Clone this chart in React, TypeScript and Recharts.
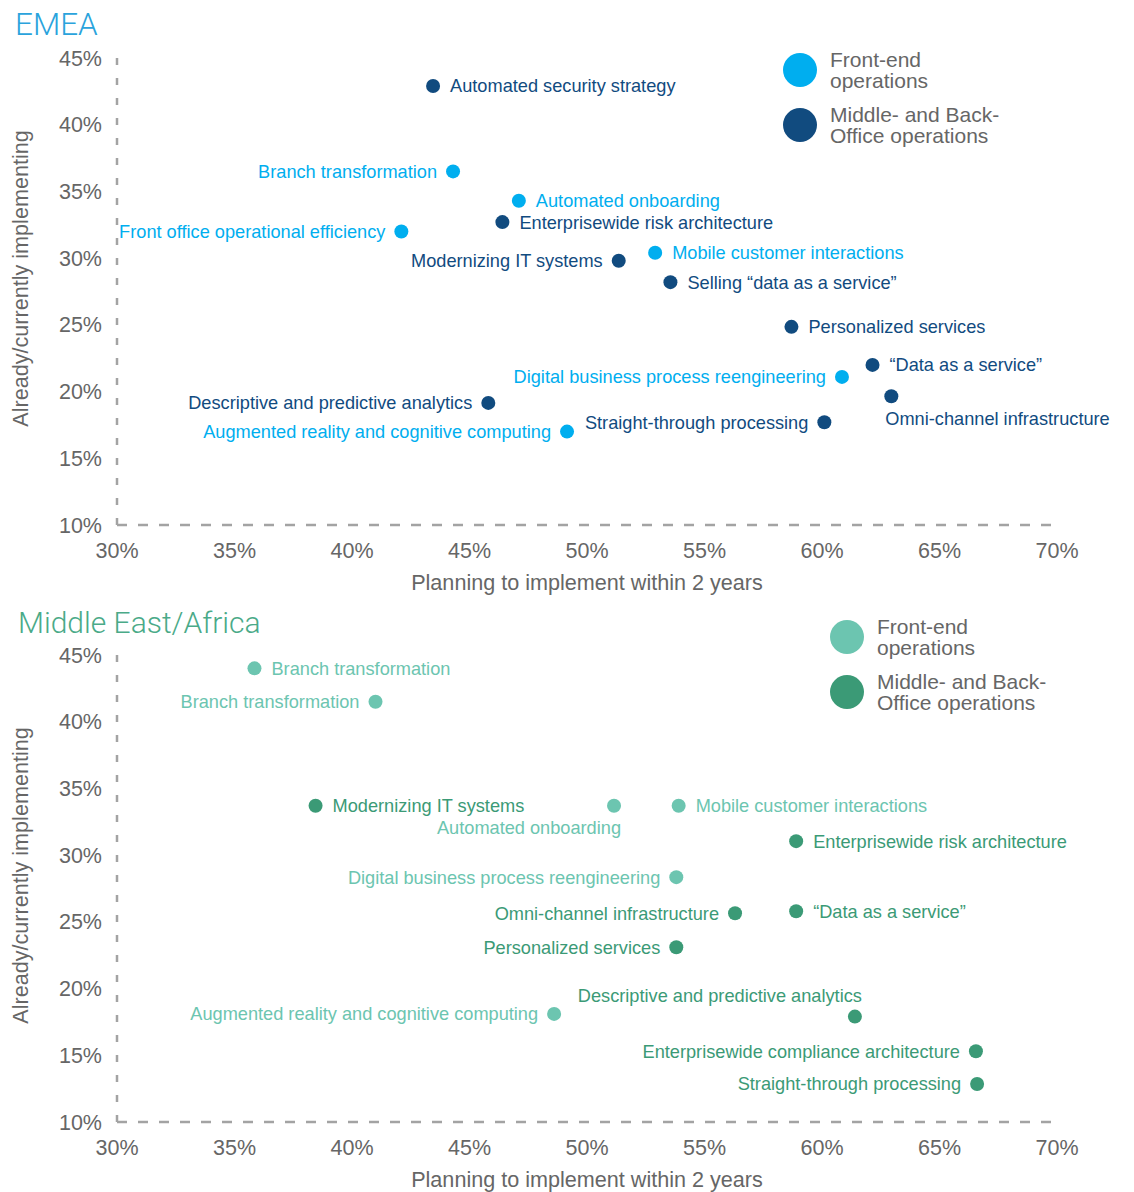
import React from "react";
import { ScatterChart, Scatter, XAxis, YAxis } from "recharts";

const xTicks = [30, 35, 40, 45, 50, 55, 60, 65, 70];
const yTicks = [10, 15, 20, 25, 30, 35, 40, 45];

// EMEA, front-end operations
const emeaFront = [
  { name: "Branch transformation", x: 44.3, y: 36.5 },
  { name: "Automated onboarding", x: 47.1, y: 34.3 },
  { name: "Front office operational efficiency", x: 42.1, y: 32.0 },
  { name: "Mobile customer interactions", x: 52.9, y: 30.4 },
  { name: "Digital business process reengineering", x: 60.85, y: 21.1 },
  { name: "Augmented reality and cognitive computing", x: 49.15, y: 17.0 },
];
const emeaFrontSide = ["l", "r", "l", "r", "l", "l"];

// EMEA, middle- and back-office operations
const emeaBack = [
  { name: "Automated security strategy", x: 43.45, y: 42.9 },
  { name: "Enterprisewide risk architecture", x: 46.4, y: 32.7 },
  { name: "Modernizing IT systems", x: 51.35, y: 29.8 },
  { name: "Selling \u201Cdata as a service\u201D", x: 53.55, y: 28.2 },
  { name: "Personalized services", x: 58.7, y: 24.85 },
  { name: "\u201CData as a service\u201D", x: 62.15, y: 22.0 },
  { name: "Omni-channel infrastructure", x: 62.95, y: 19.65 },
  { name: "Descriptive and predictive analytics", x: 45.8, y: 19.15 },
  { name: "Straight-through processing", x: 60.1, y: 17.7 },
];
const emeaBackSide = ["r", "r", "l", "r", "r", "r", "br", "l", "l"];

// Middle East/Africa, front-end operations
const meaFront = [
  { name: "Branch transformation", x: 35.85, y: 44.0 },
  { name: "Branch transformation", x: 41.0, y: 41.5 },
  { name: "Automated onboarding", x: 51.15, y: 33.7 },
  { name: "Mobile customer interactions", x: 53.9, y: 33.7 },
  { name: "Digital business process reengineering", x: 53.8, y: 28.35 },
  { name: "Augmented reality and cognitive computing", x: 48.6, y: 18.1 },
];
const meaFrontSide = ["r", "l", "bl", "r", "l", "l"];

// Middle East/Africa, middle- and back-office operations
const meaBack = [
  { name: "Modernizing IT systems", x: 38.45, y: 33.7 },
  { name: "Enterprisewide risk architecture", x: 58.9, y: 31.05 },
  { name: "Omni-channel infrastructure", x: 56.3, y: 25.65 },
  { name: "\u201CData as a service\u201D", x: 58.9, y: 25.8 },
  { name: "Personalized services", x: 53.8, y: 23.1 },
  { name: "Descriptive and predictive analytics", x: 61.4, y: 17.9 },
  { name: "Enterprisewide compliance architecture", x: 66.55, y: 15.3 },
  { name: "Straight-through processing", x: 66.6, y: 12.85 },
];
const meaBackSide = ["r", "r", "l", "r", "l", "al", "l", "l"];

const FONT = "'Liberation Sans', Arial, sans-serif";
const AXIS = "#a3a3a3";
const TXT = "#666666";

const pct = (v: number) => `${v}%`;

function makeShape(color: string, data: any[], sides: string[]) {
  return (props: any) => {
    const { cx, cy, payload } = props;
    const i = data.findIndex((d) => d.name === payload.name && d.x === payload.x);
    const side = sides[i] || "r";
    let tx = cx + 17;
    let ty = cy;
    let anchor: "start" | "end" = "start";
    if (side === "l") {
      tx = cx - 16;
      anchor = "end";
    } else if (side === "br") {
      tx = cx - 6;
      ty = cy + 22;
    } else if (side === "bl") {
      tx = cx + 7;
      ty = cy + 22;
      anchor = "end";
    } else if (side === "al") {
      tx = cx + 7;
      ty = cy - 21;
      anchor = "end";
    }
    return (
      <g>
        <circle cx={cx} cy={cy} r={7} fill={color} />
        <text x={tx} y={ty} dy="0.355em" textAnchor={anchor} fill={color} fontSize={18.2} fontFamily={FONT}>
          {payload.name}
        </text>
      </g>
    );
  };
}

const XTick = ({ x, y, payload }: any) => (
  <text x={x} y={y + 25} dy="0.355em" textAnchor="middle" fill={TXT} fontSize={21.5} fontFamily={FONT}>
    {pct(payload.value)}
  </text>
);

const YTick = ({ x, y, payload }: any) => (
  <text x={x} y={y} dy="0.355em" textAnchor="end" fill={TXT} fontSize={21.5} fontFamily={FONT}>
    {pct(payload.value)}
  </text>
);

function Panel({ height, front, frontSide, back, backSide, frontColor, backColor }: any) {
  return (
    <ScatterChart
      width={1134}
      height={height}
      margin={{ top: 58, right: 77, left: 57, bottom: height - 525 - 60 }}
    >
      <XAxis
        type="number"
        dataKey="x"
        domain={[30, 70]}
        ticks={xTicks}
        height={60}
        tickSize={0}
        tickMargin={0}
        tick={<XTick />}
        axisLine={{ stroke: AXIS, strokeWidth: 2.5, strokeDasharray: "10 11" }}
        label={{
          content: ({ viewBox }: any) => (
            <text
              x={viewBox.x + viewBox.width / 2}
              y={viewBox.y + 57}
              dy="0.355em"
              textAnchor="middle"
              fill={TXT}
              fontSize={21.6}
              fontFamily={FONT}
            >
              Planning to implement within 2 years
            </text>
          ),
        }}
      />
      <YAxis
        type="number"
        dataKey="y"
        domain={[10, 45]}
        ticks={yTicks}
        width={60}
        tickSize={0}
        tickMargin={15}
        tick={<YTick />}
        axisLine={{ stroke: AXIS, strokeWidth: 2.5, strokeDasharray: "7 13" }}
        label={{
          content: ({ viewBox }: any) => {
            const cx = 20;
            const cy = viewBox.y + viewBox.height / 2 - 13;
            return (
              <text
                x={cx}
                y={cy}
                dy="0.355em"
                textAnchor="middle"
                transform={`rotate(-90 ${cx} ${cy})`}
                fill={TXT}
                fontSize={21.6}
                fontFamily={FONT}
              >
                Already/currently implementing
              </text>
            );
          },
        }}
      />
      <Scatter data={front} isAnimationActive={false} shape={makeShape(frontColor, front, frontSide)} />
      <Scatter data={back} isAnimationActive={false} shape={makeShape(backColor, back, backSide)} />
    </ScatterChart>
  );
}

function Legend({ x, y, frontColor, backColor }: any) {
  return (
    <g fontFamily={FONT} fontSize={21} fill={TXT}>
      <circle cx={x} cy={y} r={17} fill={frontColor} />
      <text x={x + 30} y={y - 3}>Front-end</text>
      <text x={x + 30} y={y + 18}>operations</text>
      <circle cx={x} cy={y + 55} r={17} fill={backColor} />
      <text x={x + 30} y={y + 52}>Middle- and Back-</text>
      <text x={x + 30} y={y + 73}>Office operations</text>
    </g>
  );
}

export default function App() {
  return (
    <div style={{ position: "absolute", left: 0, top: 0, width: 1134, height: 1192, background: "#fff" }}>
      <Panel
        height={597}
        front={emeaFront}
        frontSide={emeaFrontSide}
        back={emeaBack}
        backSide={emeaBackSide}
        frontColor="#00aeef"
        backColor="#114b7f"
      />
      <Panel
        height={595}
        front={meaFront}
        frontSide={meaFrontSide}
        back={meaBack}
        backSide={meaBackSide}
        frontColor="#6cc5b0"
        backColor="#3b9a76"
      />
      <svg
        width={1134}
        height={1192}
        style={{ position: "absolute", left: 0, top: 0, pointerEvents: "none" }}
      >
        <text x={15} y={35} fill="#2aa3dc" fontSize={31.5} fontWeight={300} fontFamily="Roboto, 'Liberation Sans', sans-serif">
          EMEA
        </text>
        <text x={18} y={633} fill="#4aaa88" fontSize={30} fontWeight={300} fontFamily="Roboto, 'Liberation Sans', sans-serif">
          Middle East/Africa
        </text>
        <Legend x={800} y={70} frontColor="#00aeef" backColor="#114b7f" />
        <Legend x={847} y={637} frontColor="#6cc5b0" backColor="#3b9a76" />
      </svg>
    </div>
  );
}
